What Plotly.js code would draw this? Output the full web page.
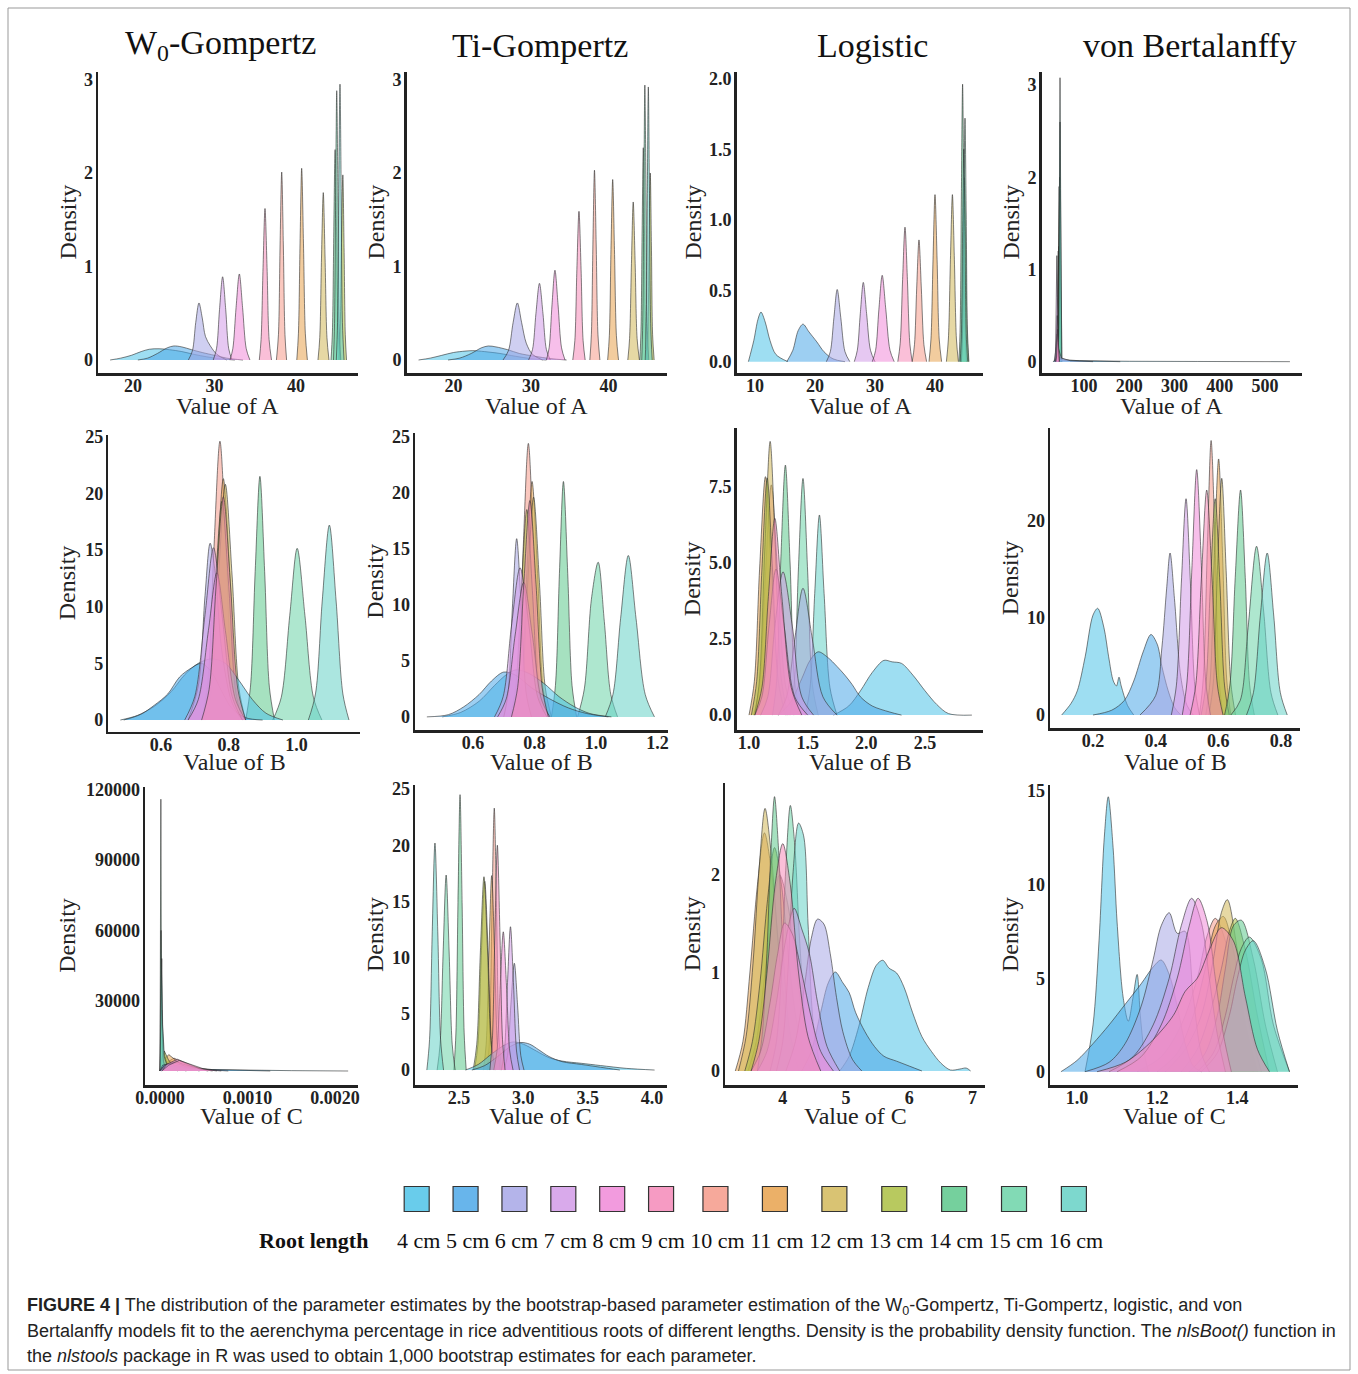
<!DOCTYPE html>
<html><head><meta charset="utf-8">
<script src="https://cdn.plot.ly/plotly-3.0.1.min.js"></script>
<style>html,body{margin:0;padding:0;background:#fff}#chart{width:1358px;height:1374px}</style>
</head><body><div id="chart"></div>
<script>
// ---------- categories ----------
const rootLengths = ['4 cm','5 cm','6 cm','7 cm','8 cm','9 cm','10 cm','11 cm','12 cm','13 cm','14 cm','15 cm','16 cm'];
const seriesColors = ['#4FC3E8','#4DA8E8','#A7A7E6','#D29BE8','#F08AD8','#F58AB8','#F59A8A','#E8A24E','#D2B85A','#ABC043','#5DC88C','#6CD3A8','#66D1C6'];
// ggplot drew the groups in alphabetical factor order (10 cm ... 16 cm, then 4 cm ... 9 cm)
const drawOrder = [6,7,8,9,10,11,12,0,1,2,3,4,5];
const modelNames = ['W<sub>0</sub>-Gompertz','Ti-Gompertz','Logistic','von Bertalanffy'];
const paramNames = ['A','B','C'];

// ---------- W0-Gompertz, A ----------
const wgA_x = [
[17.2,18.5,19.8,21.0,22.0,23.2,24.5,26,27.5,29,30.5,32.5],
[20.6,21.8,23.0,24.2,25.0,26.0,27.2,28.5,30,31.5,33.5],
[26.8,27.3,27.7,28.1,28.5,28.9,29.5,30.3,31.5],
[29.85,30.25,30.62,31.0,31.38,31.75,32.15],
[31.9,32.25,32.65,33.05,33.45,33.9,34.35],
[35.5,35.72,35.96,36.2,36.45,36.7,37.0],
[37.6,37.85,38.05,38.25,38.45,38.65,38.85],
[40.1,40.3,40.5,40.7,40.92,41.15,41.4],
[42.7,42.92,43.13,43.35,43.57,43.8,44.05],
[45.2,45.4,45.58,45.75,45.9,46.05,46.2],
[44.3,44.47,44.64,44.8,44.98,45.18,45.4],
[44.6,44.73,44.87,45.0,45.15,45.3,45.5],
[44.95,45.1,45.25,45.4,45.55,45.7,45.9]];
const wgA_y = [
[0,0.02,0.05,0.09,0.115,0.12,0.11,0.09,0.06,0.035,0.015,0],
[0,0.02,0.07,0.13,0.15,0.14,0.11,0.08,0.05,0.02,0],
[0,0.1,0.4,0.61,0.45,0.25,0.15,0.06,0],
[0,0.12,0.54,0.89,0.54,0.12,0],
[0,0.12,0.56,0.92,0.56,0.12,0],
[0,0.22,0.99,1.62,0.99,0.22,0],
[0,0.27,1.23,2.01,1.23,0.27,0],
[0,0.28,1.25,2.05,1.25,0.28,0],
[0,0.24,1.09,1.79,1.09,0.24,0],
[0,0.27,1.2,1.98,1.2,0.27,0],
[0,0.3,1.37,2.25,1.37,0.3,0],
[0,0.39,1.76,2.88,1.76,0.39,0],
[0,0.4,1.8,2.95,1.8,0.4,0]];

// ---------- Ti-Gompertz, A ----------
const tgA_x = [
[15.5,17,18.5,20,21.5,22.5,24,26,28,30,32],
[19.3,20.8,22.3,23.6,24.5,25.5,27,28.5,30.5,32.5,34.6],
[26.4,27.1,27.7,28.25,28.8,29.4,30.2,31.5],
[29.7,30.2,30.65,31.1,31.55,32.0,32.5],
[32.0,32.35,32.72,33.1,33.5,33.95,34.4],
[35.4,35.67,35.93,36.2,36.47,36.73,37.0],
[37.6,37.8,38.0,38.2,38.42,38.65,38.9],
[39.9,40.12,40.33,40.55,40.78,41.03,41.3],
[42.5,42.73,42.97,43.2,43.45,43.7,44.0],
[44.95,45.1,45.25,45.4,45.55,45.7,45.9],
[44.05,44.2,44.35,44.5,44.65,44.8,45.0],
[44.3,44.43,44.57,44.7,44.85,45.0,45.2],
[44.75,44.88,45.02,45.15,45.3,45.45,45.65]];
const tgA_y = [
[0,0.02,0.05,0.08,0.095,0.1,0.09,0.07,0.04,0.015,0],
[0,0.02,0.07,0.13,0.15,0.14,0.11,0.07,0.04,0.015,0],
[0,0.1,0.4,0.61,0.4,0.18,0.06,0],
[0,0.11,0.5,0.82,0.5,0.11,0],
[0,0.13,0.59,0.96,0.59,0.13,0],
[0,0.21,0.97,1.59,0.97,0.21,0],
[0,0.27,1.24,2.03,1.24,0.27,0],
[0,0.26,1.18,1.93,1.18,0.26,0],
[0,0.23,1.03,1.69,1.03,0.23,0],
[0,0.27,1.22,2.0,1.22,0.27,0],
[0,0.31,1.38,2.27,1.38,0.31,0],
[0,0.4,1.79,2.94,1.79,0.4,0],
[0,0.39,1.78,2.92,1.78,0.39,0]];

// ---------- Logistic, A ----------
const lgA_x = [
[8.9,9.8,10.5,11.0,11.7,12.5,13.5,15.5],
[15.3,16.3,17.2,18.0,19.0,20.3,21.5,23,25],
[21.9,22.55,23.15,23.7,24.3,25.0,25.8],
[26.55,27.05,27.55,28.05,28.6,29.25,30.0],
[29.55,30.1,30.65,31.2,31.8,32.5,33.2],
[33.8,34.2,34.6,35.0,35.4,35.8,36.2],
[36.2,36.58,36.95,37.33,37.72,38.15,38.6],
[39.0,39.33,39.67,40.0,40.35,40.7,41.1],
[41.9,42.23,42.57,42.9,43.23,43.57,43.9],
[44.2,44.43,44.67,44.9,45.13,45.37,45.6],
[44.0,44.2,44.4,44.6,44.8,45.0,45.25],
[44.4,44.6,44.8,45.0,45.2,45.4,45.65],
[44.2,44.4,44.6,44.8,45.0,45.2,45.45]];
const lgA_y = [
[0,0.15,0.3,0.35,0.28,0.15,0.05,0],
[0,0.08,0.22,0.265,0.21,0.14,0.07,0.02,0],
[0,0.07,0.31,0.51,0.31,0.07,0],
[0,0.08,0.34,0.56,0.34,0.08,0],
[0,0.08,0.37,0.61,0.37,0.08,0],
[0,0.13,0.58,0.95,0.58,0.13,0],
[0,0.12,0.52,0.86,0.52,0.12,0],
[0,0.16,0.72,1.18,0.72,0.16,0],
[0,0.16,0.72,1.18,0.72,0.16,0],
[0,0.18,0.79,1.3,0.79,0.18,0],
[0,0.26,1.2,1.96,1.2,0.26,0],
[0,0.23,1.05,1.72,1.05,0.23,0],
[0,0.2,0.92,1.5,0.92,0.2,0]];

// ---------- von Bertalanffy, A ----------
const vbA_x = [
[32,36,40,45,55,80,120,200,350,555],
[33,38,42,48,60,90,130,180],
[34,37,40,43,50,70,120],
[36,37.3,38.7,40,41.3,42.7,44],
[37,38.3,39.7,41,42.3,43.7,45],
[38,39.3,40.7,42,43.3,44.7,46],
[39,40.3,41.7,43,44.3,45.7,47],
[40,41.3,42.7,44,45.3,46.7,48],
[41,42.3,43.7,45,46.3,47.7,49],
[42,43.3,44.7,46,47.3,48.7,50],
[42,43.3,44.7,46,47.3,48.7,50],
[43,44.3,45.7,47,48.3,49.7,51],
[43,44.3,45.7,47,48.3,49.7,51]];
const vbA_y = [
[0,0.02,0.04,0.03,0.015,0.01,0.006,0.004,0.002,0],
[0,0.03,0.06,0.04,0.02,0.01,0.005,0],
[0,0.1,0.3,0.15,0.04,0.01,0],
[0,0.16,0.7,1.15,0.7,0.16,0],
[0,0.07,0.3,0.5,0.3,0.07,0],
[0,0.05,0.21,0.35,0.21,0.05,0],
[0,0.16,0.73,1.2,0.73,0.16,0],
[0,0.17,0.76,1.25,0.76,0.17,0],
[0,0.26,1.16,1.9,1.16,0.26,0],
[0,0.27,1.22,2.0,1.22,0.27,0],
[0,0.25,1.13,1.85,1.13,0.25,0],
[0,0.35,1.59,2.6,1.59,0.35,0],
[0,0.42,1.88,3.08,1.88,0.42,0]];

// ---------- W0-Gompertz, B ----------
const wgB_x = [
[0.48,0.53,0.58,0.63,0.67,0.71,0.75,0.79,0.83,0.87,0.91,0.96],
[0.49,0.54,0.58,0.62,0.655,0.69,0.72,0.75,0.78,0.81,0.85,0.9],
[0.68,0.71,0.73,0.745,0.76,0.78,0.81,0.84],
[0.67,0.7,0.73,0.755,0.78,0.81,0.84],
[0.68,0.71,0.74,0.765,0.79,0.82,0.85],
[0.72,0.742,0.763,0.784,0.805,0.827,0.85],
[0.72,0.738,0.756,0.774,0.792,0.81,0.83],
[0.725,0.745,0.765,0.784,0.803,0.822,0.845],
[0.73,0.75,0.77,0.79,0.81,0.83,0.85],
[0.72,0.74,0.76,0.78,0.8,0.82,0.84],
[0.85,0.864,0.878,0.892,0.906,0.92,0.935],
[0.93,0.955,0.98,1.002,1.025,1.05,1.075],
[1.035,1.056,1.076,1.097,1.117,1.137,1.155]];
const wgB_y = [
[0,0.4,1.2,2.5,4.0,5.0,5.4,5.0,3.5,1.8,0.6,0],
[0,0.5,1.3,2.3,3.8,4.6,5.0,4.2,2.5,1.0,0.2,0],
[0,3,11,15.6,13,6,1.5,0],
[0,2.1,9.3,15.2,9.3,2.1,0],
[0,1.8,7.9,13,7.9,1.8,0],
[0,2.7,12,19.7,12,2.7,0],
[0,3.3,15,24.6,15,3.3,0],
[0,2.9,13,21.3,13,2.9,0],
[0,2.8,12.7,20.8,12.7,2.8,0],
[0,2.6,11.8,19.3,11.8,2.6,0],
[0,2.9,13.1,21.5,13.1,2.9,0],
[0,2,9.2,15.15,9.2,2,0],
[0,2.3,10.5,17.2,10.5,2.3,0]];

// ---------- Ti-Gompertz, B ----------
const tgB_x = [
[0.5,0.56,0.62,0.67,0.71,0.74,0.78,0.83,0.88,0.93,0.98,1.05],
[0.45,0.52,0.57,0.62,0.66,0.7,0.74,0.79,0.85,0.91,0.97,1.04],
[0.7,0.714,0.728,0.742,0.757,0.773,0.79],
[0.67,0.698,0.725,0.753,0.782,0.81,0.84],
[0.68,0.708,0.737,0.765,0.793,0.822,0.85],
[0.725,0.745,0.765,0.785,0.805,0.825,0.845],
[0.73,0.747,0.763,0.78,0.797,0.813,0.83],
[0.74,0.757,0.775,0.792,0.81,0.827,0.845],
[0.74,0.759,0.778,0.797,0.816,0.835,0.855],
[0.72,0.738,0.757,0.775,0.793,0.812,0.83],
[0.855,0.868,0.881,0.894,0.908,0.922,0.937],
[0.94,0.962,0.985,1.007,1.027,1.048,1.07],
[1.03,1.055,1.08,1.105,1.13,1.16,1.19]];
const tgB_y = [
[0,0.4,1.4,2.8,3.8,4.2,3.9,3.0,1.8,0.9,0.3,0],
[0,0.2,0.9,2.0,3.2,4.0,3.7,2.6,1.6,0.8,0.3,0],
[0,2.1,9.7,15.9,9.7,2.1,0],
[0,1.8,8.1,13.3,8.1,1.8,0],
[0,1.6,7.3,12,7.3,1.6,0],
[0,2.6,11.8,19.3,11.8,2.6,0],
[0,3.3,14.9,24.4,14.9,3.3,0],
[0,2.8,12.8,21,12.8,2.8,0],
[0,2.6,12,19.6,12,2.6,0],
[0,2.5,11.3,18.5,11.3,2.5,0],
[0,2.8,12.8,21,12.8,2.8,0],
[0,2.5,10.5,13.8,8.5,2,0],
[0,2,8.8,14.4,8.8,2,0]];

// ---------- Logistic, B ----------
const lgB_x = [
[1.72,1.85,1.95,2.05,2.15,2.22,2.3,2.4,2.5,2.6,2.7,2.9],
[1.25,1.35,1.45,1.52,1.59,1.67,1.75,1.82,1.88,1.95,2.05,2.2,2.3],
[1.25,1.32,1.39,1.46,1.54,1.63,1.75],
[1.1,1.16,1.22,1.29,1.37,1.45,1.55],
[1.05,1.11,1.17,1.23,1.3,1.39,1.5],
[1.05,1.11,1.165,1.22,1.28,1.36,1.45],
[1.04,1.09,1.14,1.19,1.245,1.31,1.38],
[1.0,1.045,1.09,1.14,1.19,1.25,1.32],
[1.05,1.09,1.135,1.18,1.225,1.275,1.33],
[1.02,1.065,1.11,1.155,1.2,1.25,1.31],
[1.2,1.235,1.27,1.31,1.35,1.39,1.44],
[1.35,1.385,1.42,1.46,1.5,1.54,1.59],
[1.48,1.52,1.56,1.6,1.64,1.69,1.75]];
const lgB_y = [
[0,0.3,0.8,1.4,1.8,1.75,1.7,1.3,0.8,0.35,0.05,0],
[0,0.4,1.2,1.8,2.08,1.9,1.6,1.3,1.0,0.6,0.3,0.1,0],
[0,0.6,2.5,4.17,2.5,0.6,0],
[0,0.6,2.9,4.71,2.9,0.6,0],
[0,0.6,2.9,4.8,2.9,0.6,0],
[0,0.9,3.9,6.47,3.9,0.9,0],
[0,1,4.6,7.57,4.6,1,0],
[0,1.1,4.8,7.84,4.8,1.1,0],
[0,1.2,5.5,9.0,5.5,1.2,0],
[0,1.1,4.8,7.8,4.8,1.1,0],
[0,1.1,5,8.22,5,1.1,0],
[0,1,4.7,7.78,4.7,1,0],
[0,0.9,4,6.58,4,0.9,0]];

// ---------- von Bertalanffy, B ----------
const vbB_x = [
[0.10,0.13,0.15,0.175,0.2,0.215,0.235,0.25,0.265,0.275,0.283,0.29,0.31,0.33],
[0.2,0.26,0.3,0.33,0.36,0.385,0.405,0.42,0.44,0.46,0.48],
[0.35,0.4,0.42,0.435,0.446,0.46,0.48,0.5,0.52],
[0.45,0.466,0.482,0.497,0.511,0.525,0.54],
[0.485,0.5,0.516,0.531,0.546,0.56,0.575],
[0.51,0.528,0.546,0.563,0.58,0.597,0.615],
[0.54,0.552,0.565,0.577,0.59,0.602,0.615],
[0.56,0.574,0.587,0.601,0.614,0.627,0.64],
[0.57,0.584,0.597,0.611,0.625,0.64,0.655],
[0.545,0.56,0.575,0.59,0.605,0.62,0.635],
[0.62,0.637,0.654,0.671,0.686,0.7,0.715],
[0.64,0.67,0.695,0.722,0.745,0.768,0.79],
[0.69,0.712,0.734,0.756,0.777,0.798,0.82]];
const vbB_y = [
[0,1.2,2.5,6,10.3,11.0,9,6,3.5,3.0,3.9,3,1,0],
[0,0.5,1.5,3.5,6.5,8.3,7.3,5,2.5,0.8,0],
[0,2,7,13,16.7,12,4,1,0],
[0,3,13.6,22.3,13.6,3,0],
[0,3.4,15.4,25.3,15.4,3.4,0],
[0,3.1,14.1,23.2,14.1,3.1,0],
[0,3.8,17.3,28.3,17.3,3.8,0],
[0,3.6,16.1,26.4,16.1,3.6,0],
[0,3.3,14.9,24.4,14.9,3.3,0],
[0,3,13.6,22.3,13.6,3,0],
[0,3.1,14.2,23.2,14.2,3.1,0],
[0,1.5,9,17.4,10.6,2.3,0],
[0,2.3,10.2,16.7,10.2,2.3,0]];

// ---------- W0-Gompertz, C ----------
const wgC_x = [
[0,0.00003,0.0001,0.0003,0.0006,0.001,0.0015,0.00215],
[0,0.00003,0.0001,0.0003,0.0006,0.0009,0.00126],
[0,0.00005,0.00015,0.0003,0.0005,0.00078],
[0,0.00006,0.00018,0.0003,0.0005,0.0007],
[0.00002,0.00008,0.0002,0.00032,0.00045,0.0006],
[0.00002,0.0001,0.00022,0.00035,0.0005,0.00065],
[0.00001,0.00007,0.00016,0.00028,0.0004,0.00055],
[0.00001,0.00005,0.0001,0.0002,0.0003,0.00045],
[0,0.00001,0.00002,0.00004,0.00008,0.0002],
[0,0.00002,0.00005,0.0001,0.00018,0.0003],
[0,0.000005,0.00001,0.000015,0.00003,0.00006],
[0,0.000006,0.000012,0.00002,0.00004,0.00008],
[0,0.00001,0.00002,0.00003,0.00005,0.0001]];
const wgC_y = [
[0,1500,2000,1200,600,300,150,0],
[0,2500,3000,1500,600,200,0],
[0,2500,3500,2000,700,0],
[0,2500,4000,2500,800,0],
[0,3000,5000,3000,1000,0],
[0,2500,4500,2800,900,0],
[0,3500,5500,3500,1200,0],
[0,5000,7000,4000,1500,0],
[0,12000,26000,9000,3000,0],
[0,5500,8500,4500,1500,0],
[0,60000,116000,50000,5000,0],
[0,30000,60000,25000,4000,0],
[0,25000,48000,20000,6000,0]];

// ---------- Ti-Gompertz, C ----------
const tgC_x = [
[2.55,2.65,2.75,2.85,2.92,3.0,3.1,3.2,3.3,3.45,3.6,3.8,4.02],
[2.6,2.7,2.8,2.9,2.98,3.05,3.12,3.2,3.3,3.45,3.6,3.75],
[2.85,2.877,2.903,2.93,2.955,2.98,3.005],
[2.83,2.853,2.877,2.9,2.923,2.947,2.97],
[2.77,2.795,2.82,2.844,2.869,2.894,2.92],
[2.74,2.759,2.779,2.798,2.818,2.838,2.858],
[2.72,2.738,2.756,2.774,2.792,2.81,2.83],
[2.69,2.711,2.733,2.754,2.776,2.798,2.82],
[2.62,2.647,2.673,2.7,2.727,2.753,2.78],
[2.61,2.638,2.666,2.694,2.722,2.75,2.78],
[2.46,2.476,2.492,2.508,2.524,2.54,2.556],
[2.33,2.353,2.377,2.4,2.423,2.447,2.47],
[2.25,2.271,2.292,2.313,2.335,2.357,2.38]];
const tgC_y = [
[0,0.5,1.4,2.2,2.5,2.3,1.7,1.1,0.8,0.6,0.4,0.15,0],
[0,0.4,1.2,2.1,2.45,2.3,1.8,1.2,0.75,0.5,0.25,0],
[0,1.3,5.8,9.5,5.8,1.3,0],
[0,1.7,7.8,12.75,7.8,1.7,0],
[0,1.7,7.5,12.3,7.5,1.7,0],
[0,2.7,12.2,20,12.2,2.7,0],
[0,3.1,14.2,23.3,14.2,3.1,0],
[0,2.3,10.6,17.3,10.6,2.3,0],
[0,2.3,10.2,16.8,10.2,2.3,0],
[0,2.3,10.5,17.2,10.5,2.3,0],
[0,3.3,14.9,24.5,14.9,3.3,0],
[0,2.3,10.6,17.35,10.6,2.3,0],
[0,2.7,12.3,20.2,12.3,2.7,0]];

// ---------- Logistic, C ----------
const lgC_x = [
[4.9,5.05,5.2,5.35,5.48,5.58,5.68,5.8,5.92,6.05,6.2,6.35,6.5,6.65,6.8,6.9,6.97],
[4.3,4.45,4.6,4.72,4.83,4.95,5.05,5.15,5.3,5.45,5.6,5.8,6.0,6.2],
[4.05,4.2,4.35,4.45,4.55,4.65,4.75,4.85,4.95,5.1,5.25],
[3.6,3.75,3.9,4.05,4.18,4.3,4.42,4.55,4.7,4.9],
[3.5,3.65,3.8,3.92,4.03,4.15,4.3,4.45,4.6,4.8],
[3.5,3.62,3.75,3.88,4.0,4.12,4.25,4.4,4.6],
[3.45,3.58,3.7,3.83,3.95,4.08,4.22,4.38,4.6],
[3.25,3.37,3.48,3.6,3.71,3.83,3.96,4.1,4.3],
[3.3,3.42,3.53,3.63,3.72,3.82,3.94,4.08,4.25],
[3.4,3.52,3.64,3.76,3.87,3.98,4.1,4.25,4.45],
[3.6,3.68,3.75,3.81,3.87,3.93,4.0,4.1,4.25],
[3.8,3.9,3.98,4.05,4.12,4.19,4.27,4.37,4.5],
[3.9,4.0,4.08,4.16,4.25,4.33,4.4,4.48,4.6]];
const lgC_y = [
[0,0.15,0.45,0.85,1.08,1.13,1.05,1.0,0.85,0.6,0.35,0.2,0.08,0.01,0.02,0.03,0],
[0,0.2,0.6,0.9,1.01,0.9,0.8,0.6,0.4,0.25,0.15,0.1,0.05,0],
[0,0.3,0.9,1.35,1.55,1.5,1.2,0.75,0.4,0.12,0],
[0,0.2,0.7,1.35,1.66,1.45,1.2,0.7,0.25,0],
[0,0.2,0.7,1.2,1.51,1.4,1.0,0.55,0.2,0],
[0,0.3,1.0,1.9,2.32,1.9,1.0,0.35,0],
[0,0.3,0.9,1.6,2.0,1.7,1.0,0.35,0],
[0,0.3,1.0,1.9,2.43,2.0,1.1,0.4,0],
[0,0.35,1.1,2.1,2.68,2.2,1.2,0.4,0],
[0,0.3,0.9,1.75,2.28,1.9,1.1,0.4,0],
[0,0.4,1.2,2.2,2.8,2.3,1.3,0.45,0],
[0,0.3,1.0,2.1,2.71,2.3,1.3,0.45,0],
[0,0.3,1.0,2.0,2.53,2.4,1.5,0.5,0]];

// ---------- von Bertalanffy, C ----------
const vbC_x = [
[1.02,1.04,1.055,1.068,1.078,1.09,1.1,1.115,1.128,1.14,1.15,1.158,1.168,1.178],
[0.96,1.0,1.04,1.08,1.12,1.16,1.19,1.21,1.23,1.25,1.27,1.29,1.31],
[1.02,1.08,1.12,1.16,1.19,1.21,1.23,1.25,1.27,1.29,1.31,1.33],
[1.08,1.14,1.19,1.23,1.26,1.286,1.31,1.33,1.35,1.37],
[1.1,1.16,1.21,1.25,1.28,1.302,1.325,1.345,1.365,1.385],
[1.05,1.12,1.18,1.24,1.27,1.3,1.33,1.36,1.39,1.42,1.45,1.48],
[1.15,1.21,1.26,1.3,1.325,1.345,1.37,1.4,1.44],
[1.2,1.25,1.29,1.32,1.345,1.365,1.39,1.42,1.45],
[1.22,1.27,1.31,1.34,1.36,1.375,1.4,1.43,1.46],
[1.26,1.3,1.33,1.36,1.38,1.395,1.42,1.45,1.48],
[1.28,1.32,1.35,1.37,1.39,1.41,1.44,1.47,1.5],
[1.3,1.34,1.37,1.39,1.41,1.43,1.46,1.49,1.53],
[1.31,1.35,1.38,1.4,1.42,1.44,1.47,1.5,1.53]];
const vbC_y = [
[0,2.5,7,12.5,14.7,12,8,4,2.7,4,5.2,3,1,0],
[0,0.6,1.5,2.5,3.6,4.7,5.6,5.97,5.2,3.5,1.5,0.3,0],
[0,0.5,1.5,3.5,6,7.8,8.5,7.4,7.5,4,1,0],
[0,0.8,2.5,5,7.8,9.27,8,5,2,0],
[0,0.8,2.5,5,7.8,9.27,8,5,2,0],
[0,0.5,1.5,3,4.3,5,6.5,7.7,7,4,1.2,0],
[0,0.8,2.5,5,7.3,8.2,7,3,0],
[0,1,3,5.5,7.8,8.3,6.5,2.5,0],
[0,1.2,3,6,8.5,9.2,6.5,2.5,0],
[0,1.2,3,5.5,7.5,8.2,6.5,3,0],
[0,1,3,5.5,7.8,8.1,6,2.5,0],
[0,1,3,5,6.6,7.2,6,2.5,0],
[0,1,3,5,6.5,7.0,5.5,2.2,0]];

// ---------- tick values ----------
const ticksA_x = [[20,30,40],[20,30,40],[10,20,30,40],[100,200,300,400,500]];
const ticksA_y = [[0,1,2,3],[0,1,2,3],[0,0.5,1,1.5,2],[0,1,2,3]];
const ticksB_x = [[0.6,0.8,1.0],[0.6,0.8,1.0,1.2],[1.0,1.5,2.0,2.5],[0.2,0.4,0.6,0.8]];
const ticksB_y = [[0,5,10,15,20,25],[0,5,10,15,20,25],[0,2.5,5,7.5],[0,10,20]];
const ticksC_x = [[0,0.001,0.002],[2.5,3.0,3.5,4.0],[4,5,6,7],[1.0,1.2,1.4]];
const ticksC_y = [[30000,60000,90000,120000],[0,5,10,15,20,25],[0,1,2],[0,5,10,15]];

// ---------- panel layout (pixel boxes / ranges) ----------
const W = 1358, H = 1374;
const px = v => v / W, py = v => 1 - v / H;
const panels = [
 {xs:wgA_x, ys:wgA_y, box:[98,358,72,373], xr:[15.71,47.61], yr:[-0.139,3.08], xt:ticksA_x[0], yt:ticksA_y[0], xf:'', yf:''},
 {xs:tgA_x, ys:tgA_y, box:[406.7,666.7,72,373], xr:[13.97,47.52], yr:[-0.139,3.08], xt:ticksA_x[1], yt:ticksA_y[1], xf:'', yf:''},
 {xs:lgA_x, ys:lgA_y, box:[736.7,983.3,72,373], xr:[6.95,48.05], yr:[-0.08,2.046], xt:ticksA_x[2], yt:ticksA_y[2], xf:'', yf:'.1f'},
 {xs:vbA_x, ys:vbA_y, box:[1041.7,1301.7,72,373], xr:[6.5,581], yr:[-0.123,3.142], xt:ticksA_x[3], yt:ticksA_y[3], xf:'', yf:'', lin:true},
 {xs:wgB_x, ys:wgB_y, box:[108.3,360,435,731.7], xr:[0.4444,1.1875], yr:[-1.03,25.15], xt:ticksB_x[0], yt:ticksB_y[0], xf:'.1f', yf:''},
 {xs:tgB_x, ys:tgB_y, box:[415,668.3,433.3,730], xr:[0.4114,1.235], yr:[-1.17,25.3], xt:ticksB_x[1], yt:ticksB_y[1], xf:'.1f', yf:''},
 {xs:lgB_x, ys:lgB_y, box:[736.7,983.3,428.3,730], xr:[0.895,2.997], yr:[-0.49,9.43], xt:ticksB_x[2], yt:ticksB_y[2], xf:'.1f', yf:'.1f'},
 {xs:vbB_x, ys:vbB_y, box:[1050,1300,428.3,728.3], xr:[0.0628,0.8607], yr:[-1.37,29.56], xt:ticksB_x[3], yt:ticksB_y[3], xf:'.1f', yf:''},
 {xs:wgC_x, ys:wgC_y, box:[145,358.3,786.7,1085], xr:[-0.0001714,0.002266], yr:[-5975,121340], xt:ticksC_x[0], yt:ticksC_y[0], xf:'.4f', yf:'d', lin:true},
 {xs:tgC_x, ys:tgC_y, box:[415,666.7,785,1085], xr:[2.158,4.114], yr:[-1.33,25.36], xt:ticksC_x[1], yt:ticksC_y[1], xf:'.1f', yf:''},
 {xs:lgC_x, ys:lgC_y, box:[725,985,783.3,1085], xr:[3.087,7.197], yr:[-0.143,2.936], xt:ticksC_x[2], yt:ticksC_y[2], xf:'', yf:''},
 {xs:vbC_x, ys:vbC_y, box:[1050,1298.3,785,1085], xr:[0.9327,1.552], yr:[-0.711,15.33], xt:ticksC_x[3], yt:ticksC_y[3], xf:'.1f', yf:''}
];

function rgba(hex, a){
  const n = parseInt(hex.slice(1),16);
  return `rgba(${(n>>16)&255},${(n>>8)&255},${n&255},${a})`;
}

const serif = '"Liberation Serif", "Times New Roman", serif';
const tickFont = {family: serif, size: 18, color: '#222', weight: 'bold'};
const traces = [];
const layout = {
  width: W, height: H, margin: {l:0,r:0,t:0,b:0}, showlegend: false,
  paper_bgcolor: '#fff', plot_bgcolor: 'rgba(0,0,0,0)',
  annotations: [], shapes: []
};

panels.forEach((p, i) => {
  const n = i + 1, sfx = n === 1 ? '' : String(n);
  const [L, R, T, B] = p.box;
  drawOrder.forEach(s => {
    traces.push({
      type: 'scatter', mode: 'lines', name: rootLengths[s],
      x: p.xs[s], y: p.ys[s], xaxis: 'x' + sfx, yaxis: 'y' + sfx,
      fill: 'tozeroy', fillcolor: rgba(seriesColors[s], 0.55),
      line: {color: 'rgba(45,45,45,0.75)', width: 0.8, shape: p.lin ? 'linear' : 'spline', smoothing: 0.9},
      hoverinfo: 'skip'
    });
  });
  layout['xaxis' + sfx] = {
    domain: [px(L), px(R)], range: p.xr, anchor: 'y' + sfx,
    showline: true, linecolor: '#222', linewidth: 2.5, ticks: '', showgrid: false, zeroline: false,
    tickmode: 'array', tickvals: p.xt, tickformat: p.xf, tickfont: tickFont, fixedrange: true,
    ticklabelstandoff: -5
  };
  layout['yaxis' + sfx] = {
    domain: [py(B), py(T)], range: p.yr, anchor: 'x' + sfx,
    showline: true, linecolor: '#222', linewidth: 2.5, ticks: '', showgrid: false, zeroline: false,
    tickmode: 'array', tickvals: p.yt, tickformat: p.yf, tickfont: tickFont, fixedrange: true,
    ticklabelstandoff: -1
  };
});

// axis titles
const densityX = [67, 375, 692, 1010];
const valueY = [406, 762, 1116];
panels.forEach((p, i) => {
  const col = i % 4, row = Math.floor(i / 4);
  const [L, R, T, B] = p.box;
  layout.annotations.push({
    text: 'Density', xref: 'paper', yref: 'paper', x: px(densityX[col]), y: py((T + B) / 2),
    textangle: -90, showarrow: false, xanchor: 'center', yanchor: 'middle',
    font: {family: serif, size: 24, color: '#222'}
  });
  layout.annotations.push({
    text: 'Value of ' + paramNames[row], xref: 'paper', yref: 'paper', x: px((L + R) / 2), y: py(valueY[row]),
    showarrow: false, xanchor: 'center', yanchor: 'middle',
    font: {family: serif, size: 24, color: '#222'}
  });
});

// column titles
const titleX = [220, 540, 872, 1190];
modelNames.forEach((m, i) => {
  layout.annotations.push({
    text: m, xref: 'paper', yref: 'paper', x: px(titleX[i]), y: py(45),
    showarrow: false, xanchor: 'center', yanchor: 'middle',
    font: {family: serif, size: 34, color: '#111'}
  });
});

// legend
layout.annotations.push({
  text: '<b>Root length</b>', xref: 'paper', yref: 'paper', x: px(370), y: py(1240),
  showarrow: false, xanchor: 'right', yanchor: 'middle', font: {family: serif, size: 22, color: '#111'}
});
layout.annotations.push({
  text: rootLengths.join(' '), xref: 'paper', yref: 'paper', x: px(395), y: py(1240),
  showarrow: false, xanchor: 'left', yanchor: 'middle', font: {family: serif, size: 22, color: '#111'}
});
const ctx = document.createElement('canvas').getContext('2d');
ctx.font = '22px "Liberation Serif"';
const spaceW = ctx.measureText(' ').width;
let cursor = 395;
rootLengths.forEach((lab, i) => {
  const w = ctx.measureText(lab).width;
  const cx = cursor + w / 2;
  layout.shapes.push({
    type: 'rect', xref: 'paper', yref: 'paper',
    x0: px(cx - 12.5), x1: px(cx + 12.5), y0: py(1211.5), y1: py(1186.5),
    fillcolor: rgba(seriesColors[i], 0.85), line: {color: '#333', width: 1.2}
  });
  cursor += w + spaceW;
});

// frame
layout.shapes.push({type:'rect', xref:'paper', yref:'paper', x0:px(8), x1:px(1350), y0:py(1370), y1:py(8), line:{color:'#999', width:1}, fillcolor:'rgba(0,0,0,0)'});

// caption
const sans = '"Liberation Sans", Arial, sans-serif';
const captionLines = [
  '<b>FIGURE 4 |</b> The distribution of the parameter estimates by the bootstrap-based parameter estimation of the W<sub>0</sub>-Gompertz, Ti-Gompertz, logistic, and von',
  'Bertalanffy models fit to the aerenchyma percentage in rice adventitious roots of different lengths. Density is the probability density function. The <i>nlsBoot()</i> function in',
  'the <i>nlstools</i> package in R was used to obtain 1,000 bootstrap estimates for each parameter.'
];
const captionY = [1306, 1331, 1356];
captionLines.forEach((t, i) => {
  layout.annotations.push({
    text: t, xref: 'paper', yref: 'paper', x: px(25), y: py(captionY[i]),
    showarrow: false, xanchor: 'left', yanchor: 'middle', font: {family: sans, size: 18, color: '#222'}
  });
});

Plotly.newPlot('chart', traces, layout, {displayModeBar: false, staticPlot: true});
</script>
</body></html>
